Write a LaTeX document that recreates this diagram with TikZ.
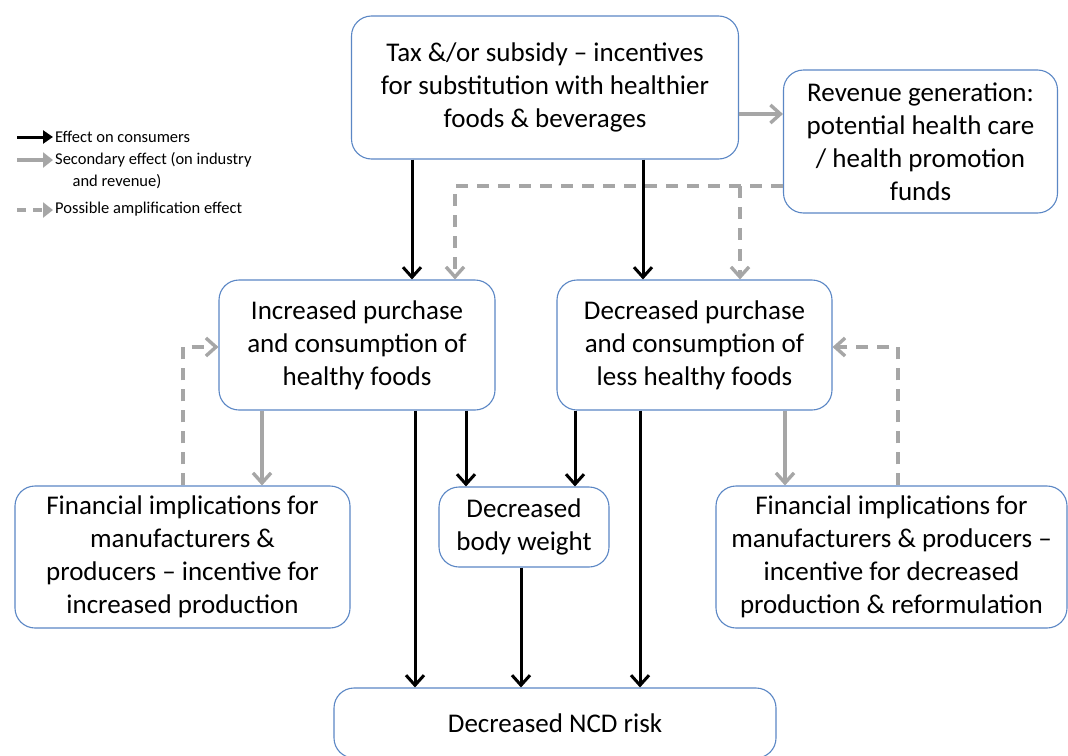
\documentclass[tikz,border=0pt]{standalone}
\usepackage{fontspec}
\setmainfont{Carlito}
\usetikzlibrary{arrows.meta}
\definecolor{boxblue}{HTML}{5B87C5}
\definecolor{arrgray}{HTML}{A6A6A6}
\tikzset{
  box/.style={draw=boxblue, line width=1.1pt, rounded corners=20pt, align=center, inner sep=0pt,
    font=\fontsize{27}{33}\selectfont},
  eff/.style={draw=black, line width=3pt, -{Straight Barb[length=10pt,width=18pt,line width=3pt]}},
  sec/.style={draw=arrgray, line width=3.4pt, -{Straight Barb[length=10pt,width=18pt,line width=3.4pt]}},
  amp/.style={draw=arrgray, line width=3.4pt, dash pattern=on 12pt off 9pt, -{Straight Barb[length=10pt,width=18pt,line width=3.4pt]}},
  legtxt/.style={font=\fontsize{16.5}{21}\selectfont, inner sep=0pt, align=center}
}
\begin{document}
\begin{tikzpicture}[x=1pt,y=-1pt]
\useasboundingbox (0,0) rectangle (1068,755);
\fill[white] (0,0) rectangle (1068,755);
% boxes
\node[box, minimum width=387pt, minimum height=143pt] (tax) at (545,87.5)
  {Tax \&/or subsidy -- incentives\\for substitution with healthier\\foods \& beverages};
\node[box, minimum width=274pt, minimum height=143pt] (rev) at (920.5,141.5)
  {Revenue generation:\\potential health care\\/ health promotion\\funds};
\node[box, minimum width=276pt, minimum height=130pt] (inc) at (357,345)
  {Increased purchase\\and consumption of\\healthy foods};
\node[box, minimum width=275pt, minimum height=130pt] (dec) at (694.5,345)
  {Decreased purchase\\and consumption of\\less healthy foods};
\node[box, minimum width=335pt, minimum height=142pt] (finl) at (182.5,557)
  {Financial implications for\\manufacturers \&\\producers -- incentive for\\increased production};
\node[box, minimum width=170pt, minimum height=80pt] (bw) at (524,527)
  {Decreased\\body weight};
\node[box, minimum width=351pt, minimum height=142pt] (finr) at (891.5,557)
  {Financial implications for\\manufacturers \& producers --\\incentive for decreased\\production \& reformulation};
\node[box, minimum width=442pt, minimum height=70pt] (ncd) at (555,723)
  {Decreased NCD risk};
% effect arrows
\draw[eff] (tax.south -| 412,0) -- (inc.north -| 412,0);
\draw[eff] (tax.south -| 643,0) -- (dec.north -| 643,0);
\draw[eff] (inc.south -| 415,0) -- (ncd.north -| 415,0);
\draw[eff] (inc.south -| 466,0) -- (bw.north -| 466,0);
\draw[eff] (dec.south -| 575,0) -- (bw.north -| 575,0);
\draw[eff] (dec.south -| 640,0) -- (ncd.north -| 640,0);
\draw[eff] (bw.south -| 521,0) -- (ncd.north -| 521,0);
% secondary arrows
\draw[sec] (tax.east |- 0,114) -- (rev.west |- 0,114);
\draw[sec] (inc.south -| 262,0) -- (finl.north -| 262,0);
\draw[sec] (dec.south -| 785,0) -- (finr.north -| 785,0);
% amplification
\coordinate (r1) at (455,186);
\coordinate (r2) at (740,186);
\draw[amp] (rev.west |- 0,186) -- (r1) -- (inc.north -| r1);
\draw[amp] (r2) -- (dec.north -| r2);
\coordinate (l1) at (183,347);
\draw[amp] (finl.north -| l1) -- (l1) -- (inc.west |- l1);
\coordinate (l2) at (898,347);
\draw[amp] (finr.north -| l2) -- (l2) -- (dec.east |- l2);
% legend
\coordinate (la) at (17,137); \coordinate (lb) at (53,137);
\draw[line width=3pt, -{Triangle[length=10pt,width=13pt]}] (la) -- (lb);
\node[legtxt, anchor=west] (lt1) at (55,137) {Effect on consumers};
\coordinate (lc) at (17,160); \coordinate (ld) at (53,160);
\draw[arrgray, line width=4pt, -{Triangle[length=10pt,width=15pt]}] (lc) -- (ld);
\node[legtxt, anchor=west] (lt2) at (55,160) {Secondary effect (on industry};
\node[legtxt] (lt2b) at (117,182) {and revenue)};
\coordinate (le) at (17,210); \coordinate (lf) at (53,210);
\draw[arrgray, line width=4pt, dash pattern=on 9pt off 7pt, -{Triangle[length=10pt,width=15pt]}] (le) -- (lf);
\node[legtxt, anchor=west] (lt3) at (55,209) {Possible amplification effect};
\end{tikzpicture}
\end{document}
